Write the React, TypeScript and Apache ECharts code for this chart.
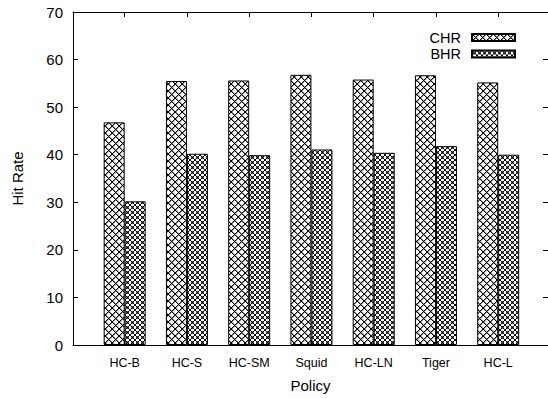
import React, { useEffect, useRef } from "react";
import * as echarts from "echarts";

const categories = ["HC-B", "HC-S", "HC-SM", "Squid", "HC-LN", "Tiger", "HC-L"];
const chrValues = [46.8, 55.5, 55.6, 56.8, 55.8, 56.7, 55.2];
const bhrValues = [30.2, 40.2, 39.9, 41.1, 40.4, 41.8, 40.0];
const yTicks = [0, 10, 20, 30, 40, 50, 60, 70];

function makeTile(size: number, halo: number, extra: number[][]): HTMLCanvasElement {
  const c = document.createElement("canvas");
  c.width = size;
  c.height = size;
  const ctx = c.getContext("2d")!;
  const img = ctx.createImageData(size, size);
  const set = (x: number, y: number, v: number) => {
    x = ((x % size) + size) % size;
    y = ((y % size) + size) % size;
    const k = (y * size + x) * 4;
    if (img.data[k + 3] === 255 && img.data[k] < v) return;
    img.data[k] = v;
    img.data[k + 1] = v;
    img.data[k + 2] = v;
    img.data[k + 3] = 255;
  };
  for (let y = 0; y < size; y++)
    for (let x = 0; x < size; x++) {
      const k = (y * size + x) * 4;
      img.data[k] = img.data[k + 1] = img.data[k + 2] = 255;
      img.data[k + 3] = 255;
    }
  for (let i = 0; i < size; i++) {
    set(i, i, 0);
    set(size - 1 - i, i, 0);
    if (halo < 255) {
      set(i + 1, i, halo);
      set(size - i, i, halo);
    }
  }
  extra.forEach(([x, y, v]) => set(x, y, v));
  ctx.putImageData(img, 0, 0);
  return c;
}

export default function App() {
  const ref = useRef<HTMLDivElement>(null);
  useEffect(() => {
    if (!ref.current) return;
    const chart = echarts.init(ref.current, null, { renderer: "svg" });
    const chrTile = makeTile(7, 150, []);
    const bhrTile = makeTile(5, 255, [[2, 1, 90], [1, 2, 90], [3, 2, 90], [2, 3, 90]]);
    const chrFill: any = { image: chrTile, repeat: "repeat", imageWidth: 7, imageHeight: 7 };
    const bhrFill: any = { image: bhrTile, repeat: "repeat", imageWidth: 5, imageHeight: 5 };
    const idx = categories.map((_, i) => i);
    const font = "'Liberation Sans', Arial, sans-serif";
    const axisLine = { show: true, onZero: false, lineStyle: { color: "#000", width: 1 } };
    chart.setOption({
      animation: false,
      backgroundColor: "#fff",
      grid: { left: 73, right: -1, top: 12, bottom: 50 },
      legend: {
        orient: "vertical",
        right: 27,
        top: 25,
        align: "right",
        itemWidth: 43,
        itemHeight: 7,
        itemGap: 1.5,
        icon: "rect",
        textStyle: { fontFamily: font, fontSize: 14.5, lineHeight: 14, color: "#000", padding: [0, 6, 0, 0] },
        data: ["CHR", "BHR"],
      },
      xAxis: [
        {
          type: "value",
          min: -0.83,
          max: 6.8,
          name: "Policy",
          nameLocation: "middle",
          nameGap: 33,
          nameTextStyle: { fontFamily: font, fontSize: 15, color: "#000" },
          splitLine: { show: false },
          axisLine,
          axisTick: { show: true, inside: true, length: 5, customValues: idx, lineStyle: { color: "#000" } },
          axisLabel: {
            customValues: idx,
            formatter: (v: number) => categories[Math.round(v)] ?? "",
            fontFamily: font,
            fontSize: 12.5,
            color: "#000",
            margin: 11,
          },
        },
        {
          type: "value",
          position: "top",
          min: -0.83,
          max: 6.8,
          splitLine: { show: false },
          axisLine,
          axisTick: { show: true, inside: true, length: 5, customValues: idx, lineStyle: { color: "#000" } },
          axisLabel: { show: false },
        },
      ],
      yAxis: [
        {
          type: "value",
          min: 0,
          max: 70,
          interval: 10,
          name: "Hit Rate",
          nameLocation: "middle",
          nameGap: 48,
          nameTextStyle: { fontFamily: font, fontSize: 15, color: "#000" },
          splitLine: { show: false },
          axisLine,
          axisTick: { show: true, inside: true, length: 5, lineStyle: { color: "#000" } },
          axisLabel: {
            fontFamily: font,
            fontSize: 15,
            color: "#000",
            margin: 10,
            formatter: (v: number) => (yTicks.includes(v) ? String(v) : ""),
          },
        },
        {
          type: "value",
          position: "right",
          min: 0,
          max: 70,
          interval: 10,
          splitLine: { show: false },
          axisLine,
          axisTick: { show: true, inside: true, length: 5, lineStyle: { color: "#000" } },
          axisLabel: { show: false },
        },
      ],
      series: [
        {
          name: "CHR",
          type: "bar",
          barWidth: 21,
          barGap: "0%",
          data: chrValues.map((v, i) => [i, v]),
          itemStyle: { color: chrFill, borderColor: "#000", borderWidth: 1 },
        },
        {
          name: "BHR",
          type: "bar",
          barWidth: 21,
          barGap: "0%",
          data: bhrValues.map((v, i) => [i, v]),
          itemStyle: { color: bhrFill, borderColor: "#000", borderWidth: 1 },
        },
      ],
    });
    return () => chart.dispose();
  }, []);
  return <div ref={ref} style={{ width: 548, height: 398, position: "absolute", left: 0, top: 0 }} />;
}
